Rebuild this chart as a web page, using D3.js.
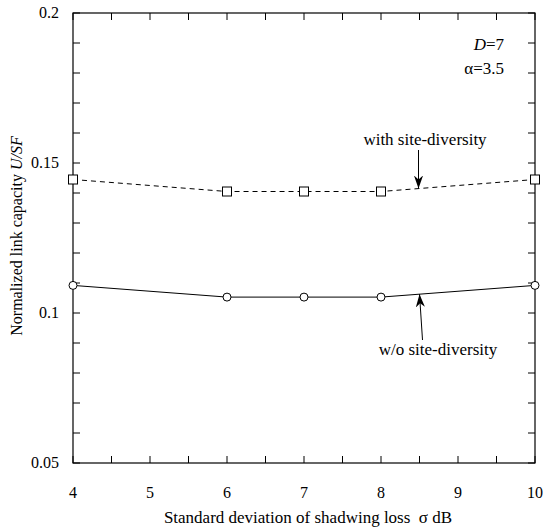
<!DOCTYPE html>
<html>
<head>
<meta charset="utf-8">
<script src="https://cdn.jsdelivr.net/npm/d3@7"></script>
<style>
  body { margin: 0; background: #fff; }
</style>
</head>
<body>
<svg id="chart" width="543" height="528" font-family="'Liberation Serif', 'Times New Roman', 'DejaVu Serif', serif"></svg>
<script>
// Shadowing standard deviation (dB)
const sigma = [4, 6, 7, 8, 10];
// Normalized link capacity U/SF
const withDiversity = [0.1445, 0.1405, 0.1405, 0.1405, 0.1445];
const withoutDiversity = [0.1092, 0.1053, 0.1053, 0.1053, 0.1092];
const xTicks = [4, 5, 6, 7, 8, 9, 10];
const yTicks = [0.05, 0.1, 0.15, 0.2];

const svg = d3.select("#chart");
const plotL = 73, plotR = 535, plotT = 13, plotB = 463;

const x = d3.scaleLinear().domain([4, 10]).range([plotL, plotR]);
const y = d3.scaleLinear().domain([0.05, 0.2]).range([plotB, plotT]);

const g = svg.append("g");

// Frame
g.append("rect").attr("x", plotL).attr("y", plotT)
  .attr("width", plotR - plotL).attr("height", plotB - plotT)
  .attr("fill", "none").attr("stroke", "#000").attr("stroke-width", 1.2);

// Inward ticks on all four sides
const xMinor = d3.range(4, 10.001, 0.5);
const yMinor = d3.range(0.05, 0.2001, 0.01);
const tickLen = 7;
xMinor.forEach(v => {
  g.append("line").attr("x1", x(v)).attr("x2", x(v)).attr("y1", plotB).attr("y2", plotB - tickLen).attr("stroke", "#000");
  g.append("line").attr("x1", x(v)).attr("x2", x(v)).attr("y1", plotT).attr("y2", plotT + tickLen).attr("stroke", "#000");
});
yMinor.forEach(v => {
  g.append("line").attr("x1", plotL).attr("x2", plotL + tickLen).attr("y1", y(v)).attr("y2", y(v)).attr("stroke", "#000");
  g.append("line").attr("x1", plotR).attr("x2", plotR - tickLen).attr("y1", y(v)).attr("y2", y(v)).attr("stroke", "#000");
});

// Tick labels
g.selectAll(".xl").data(xTicks).enter().append("text")
  .attr("x", d => x(d)).attr("y", 498).attr("text-anchor", "middle")
  .attr("font-size", 16).text(d => d);
g.selectAll(".yl").data(yTicks).enter().append("text")
  .attr("x", plotL - 14).attr("y", d => y(d) + 5).attr("text-anchor", "end")
  .attr("font-size", 16).text(d => d);

// Axis titles
g.append("text").attr("x", 308).attr("y", 523)
  .attr("text-anchor", "middle").attr("font-size", 17)
  .attr("xml:space", "preserve")
  .text("Standard deviation of shadwing loss  \u03c3 dB");
const yt = g.append("text")
  .attr("transform", `translate(22,236) rotate(-90)`)
  .attr("text-anchor", "middle").attr("font-size", 16);
yt.append("tspan").text("Normalized link capacity ");
yt.append("tspan").attr("font-style", "italic").text("U/SF");

// Parameter note
const note = g.append("text").attr("x", 504).attr("y", 50).attr("text-anchor", "end").attr("font-size", 17);
note.append("tspan").attr("font-style", "italic").text("D");
note.append("tspan").text("=7");
g.append("text").attr("x", 504).attr("y", 74).attr("text-anchor", "end").attr("font-size", 17).text("\u03b1=3.5");

// Series lines
const line = d3.line().x((d, i) => x(sigma[i])).y(d => y(d));
g.append("path").datum(withDiversity).attr("d", line)
  .attr("fill", "none").attr("stroke", "#000").attr("stroke-width", 1).attr("stroke-dasharray", "5,4");
g.append("path").datum(withoutDiversity).attr("d", line)
  .attr("fill", "none").attr("stroke", "#000").attr("stroke-width", 1);

// Markers
g.selectAll(".sq").data(withDiversity).enter().append("rect")
  .attr("x", (d, i) => x(sigma[i]) - 4.5).attr("y", d => y(d) - 4.5)
  .attr("width", 9).attr("height", 9)
  .attr("fill", "#fff").attr("stroke", "#000").attr("stroke-width", 1);
g.selectAll(".ci").data(withoutDiversity).enter().append("circle")
  .attr("cx", (d, i) => x(sigma[i])).attr("cy", d => y(d)).attr("r", 4)
  .attr("fill", "#fff").attr("stroke", "#000").attr("stroke-width", 1);

// Arrow annotations
svg.append("defs").append("marker").attr("id", "ah")
  .attr("viewBox", "0 0 10 10").attr("refX", 10).attr("refY", 5)
  .attr("markerWidth", 13).attr("markerHeight", 13).attr("markerUnits", "userSpaceOnUse")
  .attr("orient", "auto")
  .append("path").attr("d", "M0,1.5 L10,5 L0,8.5 L3,5 Z").attr("fill", "#000");

const xa = 8.5;
const yWith = y(withDiversity[3] + (withDiversity[4] - withDiversity[3]) * (xa - 8) / 2);
const yWithout = y(withoutDiversity[3] + (withoutDiversity[4] - withoutDiversity[3]) * (xa - 8) / 2);

g.append("text").attr("x", 425).attr("y", 145).attr("text-anchor", "middle").attr("font-size", 17).text("with site-diversity");
g.append("line").attr("x1", x(xa) - 1).attr("y1", 150).attr("x2", x(xa) - 1).attr("y2", yWith)
  .attr("stroke", "#000").attr("stroke-width", 1).attr("marker-end", "url(#ah)");

g.append("text").attr("x", 438).attr("y", 355).attr("text-anchor", "middle").attr("font-size", 17).text("w/o site-diversity");
g.append("line").attr("x1", x(xa) + 3).attr("y1", 340).attr("x2", x(xa)).attr("y2", yWithout)
  .attr("stroke", "#000").attr("stroke-width", 1).attr("marker-end", "url(#ah)");
</script>
</body>
</html>
